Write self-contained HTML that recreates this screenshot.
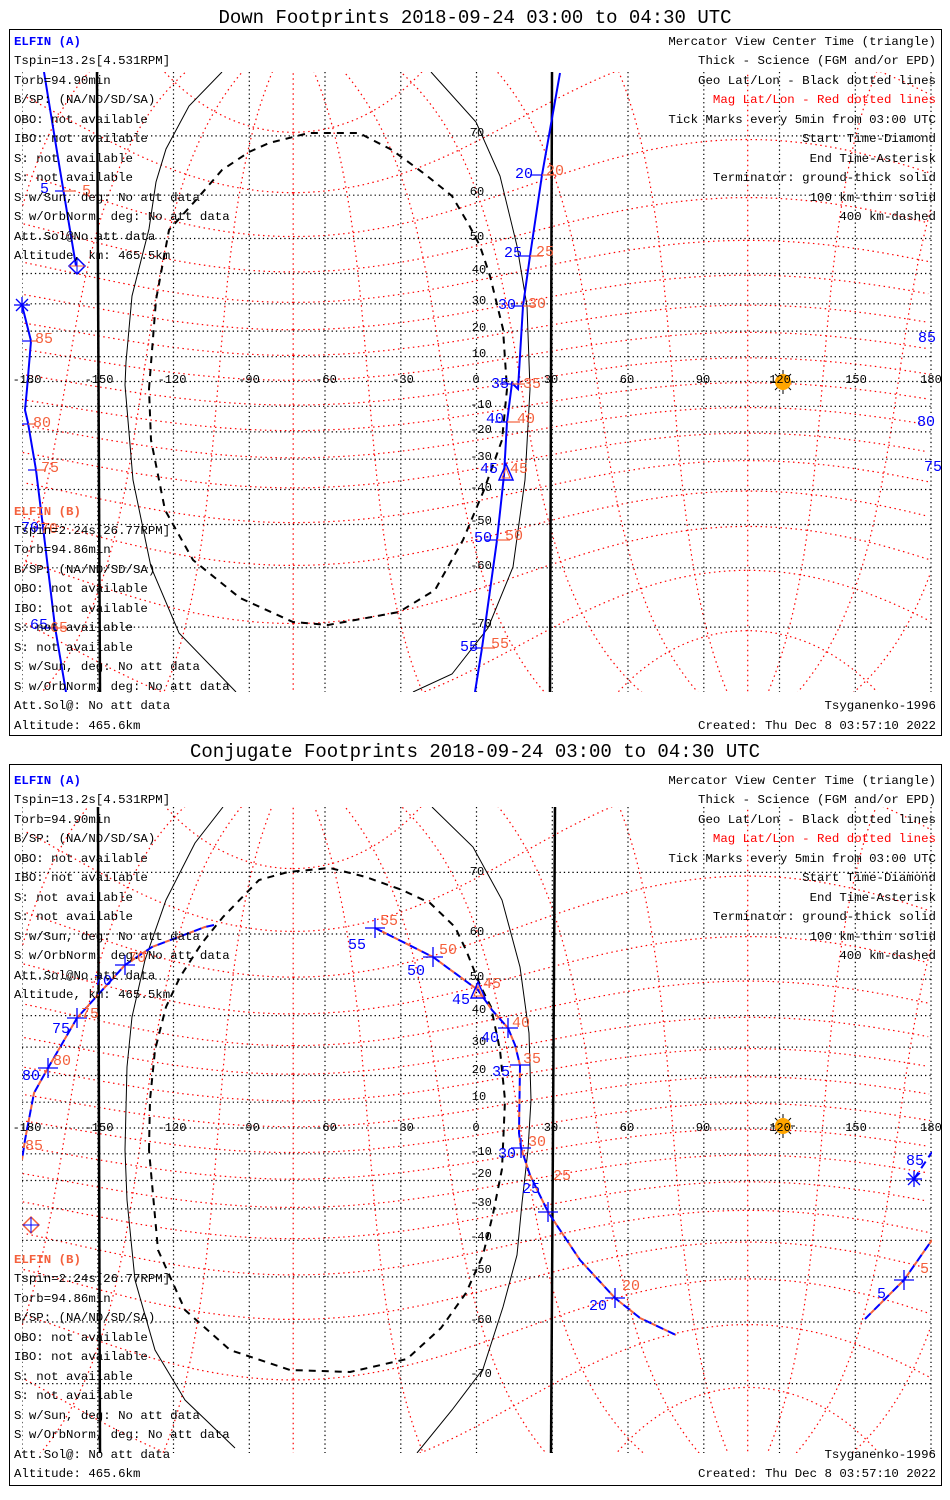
<!DOCTYPE html>
<html><head><meta charset="utf-8"><style>
html,body{margin:0;padding:0;background:#fff;overflow:hidden;width:950px;height:1500px}
svg{display:block}
text{font-family:"Liberation Mono",monospace}
.s{font-size:12.4px;fill:#000}
.t{font-size:19px;fill:#000}
.b{fill:#0000ff}
.r{fill:#f4603c}
.ax{font-size:12px;fill:#000}
.lb{font-size:15px}
</style></head><body>
<svg id="sv" width="950" height="1500" viewBox="0 0 950 1500" xmlns="http://www.w3.org/2000/svg">
<defs>
<clipPath id="c0"><rect x="22" y="72" width="910" height="620"/></clipPath>
<clipPath id="c1"><rect x="22" y="807" width="910" height="646"/></clipPath>
</defs>
<rect x="0" y="0" width="950" height="1500" fill="#fff"/>
<g id="g0" clip-path="url(#c0)"></g>
<g id="g1" clip-path="url(#c1)"></g>

<g clip-path="url(#c0)" fill="none">
 <line x1="97" y1="72" x2="100" y2="692" stroke="#000" stroke-width="2.5"/>
 <line x1="552" y1="72" x2="550" y2="692" stroke="#000" stroke-width="2.5"/>
 <polyline stroke="#000" stroke-width="1" points="222,72 189,106 166,149 156,182 149,229 132,296 126,362 125,385 133,480 151,567 179,633 236,692"/>
 <polyline stroke="#000" stroke-width="1" points="431,72 476,122 500,176 517,246 527,306 530,389 525,480 513,567 488,628 452,674 413,692"/>
 <path stroke="#000" stroke-width="2" stroke-dasharray="7 6" d="M149,389 L156,300 L169,230 L196,200 L222,170 L249,152 L269,143 L309,133 L359,133 L392,150 L426,175 L452,196 L469,225 L480,246 L490,276 L503,329 L507,389 L502,440 L484,490 L463,540 L435,590 L399,612 L328,625 L293,622 L240,598 L193,560 L165,510 L151,440 Z"/>
 <polyline stroke="#0000ff" stroke-width="2" points="560,73 542,175 530,256 523,306 518,389 512,383 507,422 504,475 497,540 482,648 475,692"/>
 <polyline stroke="#0000ff" stroke-width="2" points="44,72 60,170 76,266"/>
 <polyline stroke="#0000ff" stroke-width="2" points="22,305 31,341 27,389 25,410 28,423 36,470 43,527 55,627 66,692"/>
 <g stroke-width="1.2">
  <line x1="530" y1="175" x2="542" y2="175" stroke="#0000ff"/><line x1="542" y1="175" x2="556" y2="175" stroke="#f4603c"/>
  <line x1="518" y1="256" x2="530" y2="256" stroke="#0000ff"/><line x1="530" y1="256" x2="543" y2="256" stroke="#f4603c"/>
  <line x1="511" y1="306" x2="523" y2="306" stroke="#0000ff"/><line x1="523" y1="306" x2="536" y2="306" stroke="#f4603c"/>
  <line x1="500" y1="384" x2="512" y2="384" stroke="#0000ff"/><line x1="512" y1="384" x2="525" y2="384" stroke="#f4603c"/>
  <line x1="495" y1="422" x2="507" y2="422" stroke="#0000ff"/><line x1="507" y1="422" x2="520" y2="422" stroke="#f4603c"/>
  <line x1="485" y1="540" x2="497" y2="540" stroke="#0000ff"/><line x1="497" y1="540" x2="510" y2="540" stroke="#f4603c"/>
  <line x1="470" y1="648" x2="482" y2="648" stroke="#0000ff"/><line x1="482" y1="648" x2="495" y2="648" stroke="#f4603c"/>
  <line x1="55" y1="191" x2="63" y2="191" stroke="#0000ff"/><line x1="63" y1="191" x2="76" y2="191" stroke="#f4603c"/>
  <line x1="22" y1="341" x2="31" y2="341" stroke="#0000ff"/><line x1="31" y1="341" x2="38" y2="341" stroke="#f4603c"/>
  <line x1="22" y1="424" x2="28" y2="424" stroke="#0000ff"/><line x1="28" y1="424" x2="36" y2="424" stroke="#f4603c"/>
  <line x1="28" y1="470" x2="36" y2="470" stroke="#0000ff"/><line x1="36" y1="470" x2="46" y2="470" stroke="#f4603c"/>
  <line x1="35" y1="528" x2="43" y2="528" stroke="#0000ff"/><line x1="43" y1="528" x2="52" y2="528" stroke="#f4603c"/>
  <line x1="45" y1="628" x2="55" y2="628" stroke="#0000ff"/><line x1="55" y1="628" x2="66" y2="628" stroke="#f4603c"/>
 </g>
 <polygon points="506,464 499,480 513,480" stroke="#0000ff" stroke-width="1.5"/>
 <polygon points="506,468 502,478 510,478" stroke="#f4603c" stroke-width="1"/>
 <polygon points="77,258 85,266 77,274 69,266" stroke="#0000ff" stroke-width="1.5"/>
 <line x1="69" y1="266" x2="85" y2="266" stroke="#f4603c"/><line x1="77" y1="258" x2="77" y2="274" stroke="#0000ff"/>
 <g stroke="#000" stroke-width="1"><line x1="771" y1="382" x2="795" y2="382"/><line x1="783" y1="370" x2="783" y2="394"/><line x1="775" y1="374" x2="791" y2="390"/><line x1="775" y1="390" x2="791" y2="374"/></g>
 <circle cx="783" cy="382" r="8" fill="#ffa500" stroke="none"/>
</g>
<g stroke="#0000ff" stroke-width="1.3"><line x1="14" y1="305" x2="30" y2="305"/><line x1="22" y1="297" x2="22" y2="313"/><line x1="16" y1="299" x2="28" y2="311"/><line x1="16" y1="311" x2="28" y2="299"/></g>

<g clip-path="url(#c1)" fill="none">
 <line x1="98" y1="807" x2="100" y2="1453" stroke="#000" stroke-width="2.5"/>
 <line x1="555" y1="807" x2="551" y2="1453" stroke="#000" stroke-width="2.5"/>
 <polyline stroke="#000" stroke-width="1" points="223,807 195,843 166,900 145,960 132,1017 127,1067 125,1150 127,1200 135,1280 155,1350 185,1400 235,1448"/>
 <polyline stroke="#000" stroke-width="1" points="432,807 473,847 502,900 520,967 529,1033 531,1100 528,1150 522,1203 517,1255 503,1307 483,1369 452,1410 417,1453"/>
 <path stroke="#000" stroke-width="2" stroke-dasharray="7 6" d="M149,1150 L150,1100 L155,1050 L166,1007 L180,977 L202,943 L223,917 L259,880 L288,872 L330,868 L366,877 L402,890 L430,903 L455,927 L466,950 L480,985 L491,1007 L500,1050 L505,1100 L502,1169 L493,1214 L483,1255 L466,1293 L441,1328 L407,1359 L350,1372 L290,1370 L230,1350 L185,1310 L158,1250 Z"/>
 <g stroke-width="2">
  <polyline stroke="#0000ff" stroke-dasharray="8 5" points="214,925 205,927 152,947 125,965 77,1018 48,1068 34,1093 25,1140 22,1160"/>
  <polyline stroke="#f4603c" stroke-dasharray="5 8" stroke-dashoffset="-8" points="214,925 205,927 152,947 125,965 77,1018 48,1068 34,1093 25,1140 22,1160"/>
  <polyline stroke="#0000ff" stroke-dasharray="8 5" points="375,928 433,957 478,990 492,1010 508,1028 515,1045 520,1065 519,1133 521,1148 530,1175 548,1212 580,1260 615,1298 640,1318 676,1335"/>
  <polyline stroke="#f4603c" stroke-dasharray="5 8" stroke-dashoffset="-8" points="375,928 433,957 478,990 492,1010 508,1028 515,1045 520,1065 519,1133 521,1148 530,1175 548,1212 580,1260 615,1298 640,1318 676,1335"/>
  <polyline stroke="#0000ff" stroke-dasharray="8 5" points="914,1179 932,1152"/>
  <polyline stroke="#0000ff" stroke-dasharray="8 5" points="865,1319 904,1280 932,1240"/>
  <polyline stroke="#f4603c" stroke-dasharray="5 8" stroke-dashoffset="-8" points="865,1319 904,1280 932,1240"/>
 </g>
 <g stroke-width="1.3">
  <g stroke="#0000ff"><line x1="365" y1="928" x2="385" y2="928"/><line x1="375" y1="918" x2="375" y2="938"/>
  <line x1="423" y1="957" x2="443" y2="957"/><line x1="433" y1="947" x2="433" y2="967"/>
  <line x1="498" y1="1028" x2="518" y2="1028"/><line x1="508" y1="1018" x2="508" y2="1038"/>
  <line x1="510" y1="1065" x2="530" y2="1065"/>
  <line x1="511" y1="1148" x2="531" y2="1148"/><line x1="521" y1="1138" x2="521" y2="1158"/>
  <line x1="538" y1="1212" x2="558" y2="1212"/><line x1="548" y1="1202" x2="548" y2="1222"/>
  <line x1="605" y1="1298" x2="625" y2="1298"/><line x1="615" y1="1288" x2="615" y2="1308"/>
  <line x1="115" y1="965" x2="135" y2="965"/><line x1="125" y1="955" x2="125" y2="975"/>
  <line x1="67" y1="1018" x2="87" y2="1018"/><line x1="77" y1="1008" x2="77" y2="1028"/>
  <line x1="38" y1="1068" x2="58" y2="1068"/><line x1="48" y1="1058" x2="48" y2="1078"/>
  <line x1="894" y1="1280" x2="914" y2="1280"/><line x1="904" y1="1270" x2="904" y2="1290"/></g>
 </g>
 <polygon points="478,982 471,998 485,998" stroke="#0000ff" stroke-width="1.5"/>
 <polygon points="478,986 474,996 482,996" stroke="#f4603c" stroke-width="1"/>
 <polygon points="31,1217 39,1225 31,1233 23,1225" stroke="#f4603c" stroke-width="1.5"/>
 <line x1="23" y1="1225" x2="39" y2="1225" stroke="#0000ff"/><line x1="31" y1="1217" x2="31" y2="1233" stroke="#0000ff"/>
 <g stroke="#0000ff" stroke-width="1.3"><line x1="906" y1="1179" x2="922" y2="1179"/><line x1="914" y1="1171" x2="914" y2="1187"/><line x1="908" y1="1173" x2="920" y2="1185"/><line x1="908" y1="1185" x2="920" y2="1173"/></g>
 <g stroke="#000" stroke-width="1"><line x1="771" y1="1126" x2="795" y2="1126"/><line x1="783" y1="1114" x2="783" y2="1138"/><line x1="775" y1="1118" x2="791" y2="1134"/><line x1="775" y1="1134" x2="791" y2="1118"/></g>
 <circle cx="783" cy="1126" r="8" fill="#ffa500"/>
</g>

<rect x="9.5" y="29.5" width="932" height="706" fill="none" stroke="#000" stroke-width="1"/>
<rect x="9.5" y="764.5" width="932" height="721" fill="none" stroke="#000" stroke-width="1"/>

<text class="t" x="475" y="23" text-anchor="middle">Down Footprints 2018-09-24 03:00 to 04:30 UTC</text>
<text class="t" x="475" y="757" text-anchor="middle">Conjugate Footprints 2018-09-24 03:00 to 04:30 UTC</text>

<g class="ax" text-anchor="middle">
<text x="27" y="383">-180</text><text x="99" y="383">-150</text><text x="172" y="383">-120</text><text x="249" y="383">-90</text><text x="326" y="383">-60</text><text x="403" y="383">-30</text><text x="476" y="383">0</text><text x="551" y="383">30</text><text x="627" y="383">60</text><text x="703" y="383">90</text><text x="780" y="383">120</text><text x="856" y="383">150</text><text x="931" y="383">180</text>
<text x="477" y="136">70</text><text x="477" y="195">60</text><text x="477" y="240">50</text><text x="479" y="273">40</text><text x="479" y="304">30</text><text x="479" y="331">20</text><text x="479" y="357">10</text>
<text x="481" y="408">-10</text><text x="481" y="433">-20</text><text x="481" y="460">-30</text><text x="481" y="491">-40</text><text x="481" y="524">-50</text><text x="481" y="569">-60</text><text x="481" y="627">-70</text>
</g>
<g class="ax" text-anchor="middle">
<text x="27" y="1131">-180</text><text x="99" y="1131">-150</text><text x="172" y="1131">-120</text><text x="249" y="1131">-90</text><text x="326" y="1131">-60</text><text x="403" y="1131">-30</text><text x="476" y="1131">0</text><text x="551" y="1131">30</text><text x="627" y="1131">60</text><text x="703" y="1131">90</text><text x="780" y="1131">120</text><text x="856" y="1131">150</text><text x="931" y="1131">180</text>
<text x="477" y="875">70</text><text x="477" y="935">60</text><text x="477" y="980">50</text><text x="479" y="1013">40</text><text x="479" y="1045">30</text><text x="479" y="1073">20</text><text x="479" y="1100">10</text>
<text x="481" y="1155">-10</text><text x="481" y="1177">-20</text><text x="481" y="1206">-30</text><text x="481" y="1240">-40</text><text x="481" y="1273">-50</text><text x="481" y="1323">-60</text><text x="481" y="1377">-70</text>
</g>

<g class="lb">
<text class="b" x="40" y="193">5</text><text class="r" x="82" y="195">5</text>
<text class="b" x="515" y="178">20</text><text class="r" x="546" y="175">20</text>
<text class="b" x="504" y="257">25</text><text class="r" x="536" y="256">25</text>
<text class="b" x="498" y="309">30</text><text class="r" x="528" y="308">30</text>
<text class="b" x="491" y="388">35</text><text class="r" x="523" y="388">35</text>
<text class="b" x="486" y="423">40</text><text class="r" x="517" y="423">40</text>
<text class="b" x="480" y="473">45</text><text class="r" x="510" y="473">45</text>
<text class="b" x="474" y="542">50</text><text class="r" x="505" y="540">50</text>
<text class="b" x="460" y="651">55</text><text class="r" x="491" y="648">55</text>
<text class="r" x="35" y="343">85</text><text class="r" x="33" y="427">80</text><text class="r" x="41" y="472">75</text>
<text class="b" x="21" y="532">70</text><text class="r" x="40" y="533">70</text>
<text class="b" x="30" y="629">65</text><text class="r" x="50" y="632">65</text>
<text class="b" x="918" y="342">85</text><text class="b" x="917" y="426">80</text><text class="b" x="924" y="471">75</text>
</g>
<g class="lb">
<text class="b" x="348" y="949">55</text><text class="r" x="380" y="925">55</text>
<text class="b" x="407" y="975">50</text><text class="r" x="439" y="954">50</text>
<text class="b" x="452" y="1004">45</text><text class="r" x="483" y="988">45</text>
<text class="b" x="481" y="1042">40</text><text class="r" x="512" y="1027">40</text>
<text class="b" x="492" y="1076">35</text><text class="r" x="523" y="1063">35</text>
<text class="b" x="498" y="1158">30</text><text class="r" x="528" y="1146">30</text>
<text class="b" x="522" y="1193">25</text><text class="r" x="553" y="1180">25</text>
<text class="b" x="589" y="1310">20</text><text class="r" x="622" y="1290">20</text>
<text class="b" x="22" y="1080">80</text><text class="r" x="53" y="1065">80</text>
<text class="b" x="52" y="1033">75</text><text class="r" x="81" y="1018">75</text>
<text class="b" x="94" y="985">70</text><text class="r" x="128" y="962">70</text>
<text class="r" x="25" y="1150">85</text>
<text class="b" x="906" y="1165">85</text>
<text class="b" x="877" y="1298">5</text><text class="r" x="920" y="1273">5</text>
</g>

<g class="s">
<text x="14" y="45" style="font-weight:bold;fill:#0000ff">ELFIN (A)</text>
<text x="14" y="64">Tspin=13.2s[4.531RPM]</text>
<text x="14" y="84">Torb=94.90min</text>
<text x="14" y="103">B/SP: (NA/ND/SD/SA)</text>
<text x="14" y="123">OBO: not available</text>
<text x="14" y="142">IBO: not available</text>
<text x="14" y="162">S: not available</text>
<text x="14" y="181">S: not available</text>
<text x="14" y="201">S w/Sun, deg: No att data</text>
<text x="14" y="220">S w/OrbNorm, deg: No att data</text>
<text x="14" y="240">Att.Sol@No att data</text>
<text x="14" y="259">Altitude, km: 465.5km</text>
<text x="14" y="515" style="font-weight:bold;fill:#f4603c">ELFIN (B)</text>
<text x="14" y="534">Tspin=2.24s[26.77RPM]</text>
<text x="14" y="553">Torb=94.86min</text>
<text x="14" y="573">B/SP: (NA/ND/SD/SA)</text>
<text x="14" y="592">OBO: not available</text>
<text x="14" y="612">IBO: not available</text>
<text x="14" y="631">S: not available</text>
<text x="14" y="651">S: not available</text>
<text x="14" y="670">S w/Sun, deg: No att data</text>
<text x="14" y="690">S w/OrbNorm, deg: No att data</text>
<text x="14" y="709">Att.Sol@: No att data</text>
<text x="14" y="729">Altitude: 465.6km</text>
</g>
<g class="s" text-anchor="end">
<text x="936" y="45">Mercator View Center Time (triangle)</text>
<text x="936" y="64">Thick - Science (FGM and/or EPD)</text>
<text x="936" y="84">Geo Lat/Lon - Black dotted lines</text>
<text x="936" y="103" style="fill:#ff0000">Mag Lat/Lon - Red dotted lines</text>
<text x="936" y="123">Tick Marks every 5min from 03:00 UTC</text>
<text x="936" y="142">Start Time-Diamond</text>
<text x="936" y="162">End Time-Asterisk</text>
<text x="936" y="181">Terminator: ground-thick solid</text>
<text x="936" y="201">100 km-thin solid</text>
<text x="936" y="220">400 km-dashed</text>
<text x="936" y="709">Tsyganenko-1996</text>
<text x="936" y="729">Created: Thu Dec  8 03:57:10 2022</text>
</g>
<g class="s">
<text x="14" y="784" style="font-weight:bold;fill:#0000ff">ELFIN (A)</text>
<text x="14" y="803">Tspin=13.2s[4.531RPM]</text>
<text x="14" y="823">Torb=94.90min</text>
<text x="14" y="842">B/SP: (NA/ND/SD/SA)</text>
<text x="14" y="862">OBO: not available</text>
<text x="14" y="881">IBO: not available</text>
<text x="14" y="901">S: not available</text>
<text x="14" y="920">S: not available</text>
<text x="14" y="940">S w/Sun, deg: No att data</text>
<text x="14" y="959">S w/OrbNorm, deg: No att data</text>
<text x="14" y="979">Att.Sol@No att data</text>
<text x="14" y="998">Altitude, km: 465.5km</text>
<text x="14" y="1263" style="font-weight:bold;fill:#f4603c">ELFIN (B)</text>
<text x="14" y="1282">Tspin=2.24s[26.77RPM]</text>
<text x="14" y="1302">Torb=94.86min</text>
<text x="14" y="1321">B/SP: (NA/ND/SD/SA)</text>
<text x="14" y="1341">OBO: not available</text>
<text x="14" y="1360">IBO: not available</text>
<text x="14" y="1380">S: not available</text>
<text x="14" y="1399">S: not available</text>
<text x="14" y="1419">S w/Sun, deg: No att data</text>
<text x="14" y="1438">S w/OrbNorm, deg: No att data</text>
<text x="14" y="1458">Att.Sol@: No att data</text>
<text x="14" y="1477">Altitude: 465.6km</text>
</g>
<g class="s" text-anchor="end">
<text x="936" y="784">Mercator View Center Time (triangle)</text>
<text x="936" y="803">Thick - Science (FGM and/or EPD)</text>
<text x="936" y="823">Geo Lat/Lon - Black dotted lines</text>
<text x="936" y="842" style="fill:#ff0000">Mag Lat/Lon - Red dotted lines</text>
<text x="936" y="862">Tick Marks every 5min from 03:00 UTC</text>
<text x="936" y="881">Start Time-Diamond</text>
<text x="936" y="901">End Time-Asterisk</text>
<text x="936" y="920">Terminator: ground-thick solid</text>
<text x="936" y="940">100 km-thin solid</text>
<text x="936" y="959">400 km-dashed</text>
<text x="936" y="1458">Tsyganenko-1996</text>
<text x="936" y="1477">Created: Thu Dec  8 03:57:10 2022</text>
</g>
</svg>
<script>
(function(){
var NS="http://www.w3.org/2000/svg";
var P=[{g:"g0",eq:381.5,R:141.5,y0:72,y1:692},{g:"g1",eq:1128,R:147.3,y0:807,y1:1453}];
function X(l){return 476.5+l*2.525;}
function Y(p,la){la=Math.max(-86,Math.min(86,la));return p.eq-p.R*Math.log(Math.tan(Math.PI/4+la*Math.PI/360));}
var d2r=Math.PI/180,plat=80.5,plon=-72.6,c=(90-plat)*d2r,pl=plon*d2r;
function m2g(ml,mo){ml*=d2r;mo*=d2r;var x=Math.cos(ml)*Math.cos(mo),y=Math.cos(ml)*Math.sin(mo),z=Math.sin(ml);
var x1=x*Math.cos(c)+z*Math.sin(c),z1=-x*Math.sin(c)+z*Math.cos(c);
var X2=x1*Math.cos(pl)-y*Math.sin(pl),Y2=x1*Math.sin(pl)+y*Math.cos(pl);
return [Math.asin(z1)/d2r,Math.atan2(Y2,X2)/d2r];}
function add(g,d,st,da,w){var e=document.createElementNS(NS,"path");e.setAttribute("d",d);e.setAttribute("fill","none");e.setAttribute("stroke",st);e.setAttribute("stroke-dasharray",da);e.setAttribute("stroke-width",w);g.appendChild(e);}
P.forEach(function(p){
 var g=document.getElementById(p.g);
 var d="";
 function trace(pts){var s="",prev=null;pts.forEach(function(q){var x=X(q[1]),y=Y(p,q[0]);
  if(prev===null||Math.abs(q[1]-prev)>180)s+="M"+x.toFixed(1)+","+y.toFixed(1);else s+="L"+x.toFixed(1)+","+y.toFixed(1);prev=q[1];});return s;}
 for(var ml=-80;ml<=80;ml+=10){var pts=[];for(var mo=0;mo<=360;mo+=2)pts.push(m2g(ml,mo));d+=trace(pts);}
 for(var mo=0;mo<360;mo+=30){var pts=[];for(var ml=-88;ml<=88;ml+=1)pts.push(m2g(ml,mo));d+=trace(pts);}
 add(g,d,"#ff0000","1.5 3.5",1.2);
 var b="";
 for(var la=-80;la<=80;la+=10){var y=Y(p,la).toFixed(1);b+="M22,"+y+"L932,"+y;}
 for(var lo=-180;lo<=180;lo+=30){var x=X(lo).toFixed(1);b+="M"+x+","+p.y0+"L"+x+","+p.y1;}
 add(g,b,"#000","1.3 3",1.2);
});
})();
</script>
</body></html>
